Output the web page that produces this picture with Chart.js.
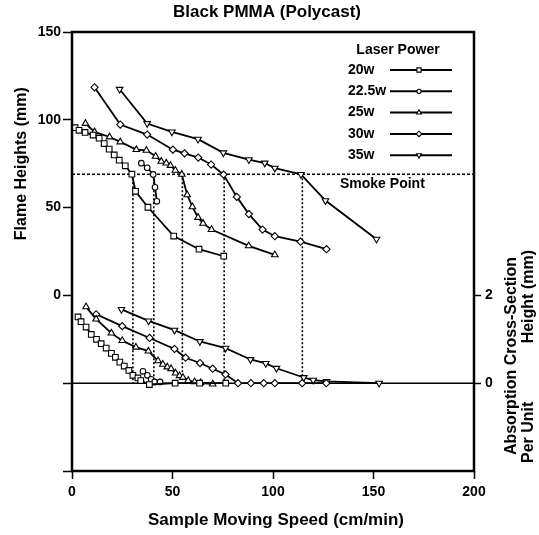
<!DOCTYPE html>
<html>
<head>
<meta charset="utf-8">
<script src="https://cdn.jsdelivr.net/npm/chart.js@4.4.1/dist/chart.umd.min.js"></script>
<style>
    html, body { margin: 0; padding: 0; background: #fff; }
    #wrap { width: 539px; height: 535px; }
</style>
</head>
<body>
<div id="wrap"><canvas id="pmmaChart" width="539" height="535"></canvas></div>
<script>
// flame height (mm) vs sample speed (cm/min), one pair of arrays per laser power
const speed20 = [1.5, 3.5, 6.5, 10.5, 13.5, 16, 18.5, 21, 23.5, 26.5, 29.8, 31.6, 37.8, 50.6, 63.2, 75.5];
const flame20 = [95.5, 94, 92.8, 91.3, 89.5, 86.5, 83.3, 80, 77, 73.8, 69, 59.3, 50.2, 33.8, 26.3, 22.3];

const speed22 = [34.5, 37.4, 40.4, 41.3, 42.2];
const flame22 = [75.3, 72.7, 68.9, 61.6, 53.6];

const speed25 = [6.7, 11.2, 18.7, 24, 32, 37, 41.6, 44.4, 46.9, 49, 51.4, 54.6, 57.3, 59.9, 62.7, 65.2, 69.4, 87.9, 100.9];
const flame25 = [97.9, 93.1, 90.2, 87.4, 83, 82.6, 79.2, 76.3, 75.3, 74, 71.2, 68.9, 57.3, 50.4, 44.4, 41, 37.5, 28.2, 23.1];

const speed30 = [11.2, 24, 37.4, 50.2, 56, 62.8, 69.2, 75.4, 82, 88, 94.8, 100.9, 113.7, 126.6];
const flame30 = [118.5, 97.3, 91.6, 83, 80.9, 78.5, 74.5, 68.8, 56.1, 46.3, 37.5, 33.7, 30.6, 26.3];

const speed35 = [23.7, 37.4, 49.7, 62.7, 75.3, 88, 95.9, 100.9, 113.9, 126.1, 151.5];
const flame35 = [117.4, 97.9, 93.1, 89, 81.2, 77.3, 75.4, 72.5, 68.9, 54, 32];

// absorption cross-section per unit height (mm), right axis
const absSpeed20 = [3, 4.5, 7, 9.6, 12.2, 14.5, 17, 19.6, 21.6, 23.8, 26, 28.3, 30.3, 32.8, 34.2, 38.5, 51.3, 63.5, 76.5];
const abs20 = [1.51, 1.40, 1.28, 1.11, 1.0, 0.9, 0.8, 0.68, 0.59, 0.48, 0.39, 0.29, 0.18, 0.12, 0.06, -0.03, 0, 0, 0];

const absSpeed22 = [35.3, 37.5, 39.4, 41.1, 43.8];
const abs22 = [0.27, 0.18, 0.09, 0.03, 0.03];

const absSpeed25 = [7, 12, 19.6, 25, 31.8, 38, 42.8, 45.2, 47.4, 49.3, 51.5, 53.5, 55.2, 57.8, 61, 64, 70];
const abs25 = [1.74, 1.46, 1.14, 0.97, 0.82, 0.73, 0.51, 0.43, 0.37, 0.33, 0.23, 0.17, 0.13, 0.06, 0.03, 0.01, -0.02];

const absSpeed30 = [12, 25, 38.6, 51, 56.5, 63.7, 70, 76.4, 82.6, 89, 95.4, 100.9, 114.5, 126.5];
const abs30 = [1.57, 1.30, 1.03, 0.78, 0.58, 0.46, 0.33, 0.2, 0, 0, 0, 0, 0, 0];

const absSpeed35 = [24.6, 38.1, 51, 63.6, 76.4, 88.8, 96.4, 101.7, 115.3, 120, 126.6, 152.8];
const abs35 = [1.68, 1.42, 1.21, 0.95, 0.8, 0.54, 0.45, 0.34, 0.13, 0.07, 0.04, 0];

// smoke point
const smokeHeight = 69;
const smokeSpeeds = [30.3, 40.7, 54.9, 75.7, 114.6];

// ticks
const speedTicks = [0, 50, 100, 150, 200];
const flameTicks = [-100, -50, 0, 50, 100, 150];
const absTicks = [0, 2];

const powerLabels = ['20w', '22.5w', '25w', '30w', '35w'];
const markerStyles = ['rect', 'circle', 'triangle', 'rectRot', 'triangle'];
const markerRotation = [0, 0, 0, 0, 180];
const markerRadius = [4, 2.8, 3.8, 3.6, 3.8];

const fontFamily = "'Liberation Sans', Arial, Helvetica, sans-serif";

function pairs(xs, ys) {
    return xs.map((x, i) => ({ x: x, y: ys[i] }));
}

function series(i, xs, ys, axis) {
    return {
        label: powerLabels[i],
        data: pairs(xs, ys),
        yAxisID: axis,
        borderColor: '#000',
        borderWidth: 1.8,
        pointStyle: markerStyles[i],
        rotation: markerRotation[i],
        pointRadius: markerRadius[i],
        pointBackgroundColor: '#fff',
        pointBorderColor: '#000',
        pointBorderWidth: 1.1,
        fill: false,
        tension: 0,
        clip: false
    };
}

const smokePlugin = {
    id: 'smokeLines',
    beforeDatasetsDraw(chart) {
        const { ctx, chartArea: a, scales } = chart;
        const ySmoke = scales.yL.getPixelForValue(smokeHeight);
        const yBase = scales.yR.getPixelForValue(0);
        ctx.save();
        ctx.strokeStyle = '#000';

        // baseline for the absorption curves
        ctx.lineWidth = 1.5;
        ctx.beginPath();
        ctx.moveTo(a.left, yBase);
        ctx.lineTo(a.right, yBase);
        ctx.stroke();

        ctx.lineWidth = 1.6;
        ctx.setLineDash([3, 2]);
        ctx.beginPath();
        ctx.moveTo(a.left, ySmoke);
        ctx.lineTo(a.right, ySmoke);
        ctx.stroke();

        ctx.setLineDash([2, 2]);
        smokeSpeeds.forEach(s => {
            const x = scales.x.getPixelForValue(s);
            ctx.beginPath();
            ctx.moveTo(x, ySmoke);
            ctx.lineTo(x, yBase);
            ctx.stroke();
        });
        ctx.restore();
    }
};

const decorPlugin = {
    id: 'decor',
    afterDraw(chart) {
        const { ctx, chartArea: a, scales } = chart;
        ctx.save();

        // frame
        ctx.strokeStyle = '#000';
        ctx.lineWidth = 2.5;
        ctx.strokeRect(a.left, a.top, a.right - a.left, a.bottom - a.top);

        ctx.fillStyle = '#000';
        ctx.textBaseline = 'middle';

        ctx.font = 'bold 17px ' + fontFamily;
        ctx.textAlign = 'center';
        ctx.fillText('Black PMMA (Polycast)', 267, 12);
        ctx.fillText('Sample Moving Speed (cm/min)', 276, 520);

        // left title, centred on the flame-height part
        ctx.font = 'bold 16px ' + fontFamily;
        const yMid = (scales.yL.getPixelForValue(150) + scales.yL.getPixelForValue(0)) / 2;
        ctx.save();
        ctx.translate(22, yMid);
        ctx.rotate(-Math.PI / 2);
        ctx.fillText('Flame Heights (mm)', 0, 0);
        ctx.restore();

        // right title, two lines
        ctx.save();
        ctx.translate(512, 356);
        ctx.rotate(-Math.PI / 2);
        ctx.fillText('Absorption Cross-Section', 0, 0);
        ctx.restore();
        ctx.save();
        ctx.translate(529, 463);
        ctx.rotate(-Math.PI / 2);
        ctx.textAlign = 'left';
        ctx.fillText('Per Unit', 0, 0);
        ctx.restore();
        ctx.save();
        ctx.translate(529, 250);
        ctx.rotate(-Math.PI / 2);
        ctx.textAlign = 'right';
        ctx.fillText('Height (mm)', 0, 0);
        ctx.restore();

        // smoke point label
        ctx.font = 'bold 14px ' + fontFamily;
        ctx.textAlign = 'left';
        ctx.fillText('Smoke Point', a.right - 134, scales.yL.getPixelForValue(smokeHeight) + 10);

        // legend
        ctx.textAlign = 'center';
        ctx.fillText('Laser Power', a.right - 76, a.top + 18);
        powerLabels.forEach((lab, i) => {
            const y = a.top + 38 + i * 21.3;
            ctx.fillStyle = '#000';
            ctx.textAlign = 'left';
            ctx.fillText(lab, a.right - 126, y);
            ctx.strokeStyle = '#000';
            ctx.lineWidth = 2;
            ctx.beginPath();
            ctx.moveTo(a.right - 84, y);
            ctx.lineTo(a.right - 22, y);
            ctx.stroke();
            ctx.fillStyle = '#fff';
            ctx.lineWidth = 1.1;
            Chart.helpers.drawPoint(ctx, {
                pointStyle: markerStyles[i],
                rotation: markerRotation[i],
                radius: markerRadius[i] * 0.75,
                borderWidth: 1.1
            }, a.right - 55, y);
        });

        ctx.restore();
    }
};

const tickFont = { family: fontFamily, size: 14, weight: 'bold' };

new Chart(document.getElementById('pmmaChart'), {
    type: 'line',
    data: {
        datasets: [
            series(0, speed20, flame20, 'yL'),
            series(1, speed22, flame22, 'yL'),
            series(2, speed25, flame25, 'yL'),
            series(3, speed30, flame30, 'yL'),
            series(4, speed35, flame35, 'yL'),
            series(0, absSpeed20, abs20, 'yR'),
            series(1, absSpeed22, abs22, 'yR'),
            series(2, absSpeed25, abs25, 'yR'),
            series(3, absSpeed30, abs30, 'yR'),
            series(4, absSpeed35, abs35, 'yR')
        ]
    },
    options: {
        responsive: false,
        animation: false,
        devicePixelRatio: 1,
        layout: { padding: { top: 32, left: 0, right: 0, bottom: 0 } },
        plugins: {
            legend: { display: false },
            tooltip: { enabled: false },
            title: { display: false }
        },
        scales: {
            x: {
                type: 'linear',
                position: 'bottom',
                min: 0,
                max: 200,
                afterFit: s => { s.height = 64; },
                afterBuildTicks: s => { s.ticks = speedTicks.map(v => ({ value: v })); },
                ticks: { font: tickFont, color: '#000', padding: 5, maxRotation: 0, autoSkip: false },
                grid: { drawOnChartArea: false, tickLength: 8, tickWidth: 1.5, tickColor: '#000' },
                border: { display: false }
            },
            yL: {
                type: 'linear',
                position: 'left',
                min: -100,
                max: 150,
                afterFit: s => { s.width = 72; },
                afterBuildTicks: s => { s.ticks = flameTicks.map(v => ({ value: v })); },
                ticks: {
                    font: tickFont, color: '#000', padding: 2, autoSkip: false,
                    callback: v => (v >= 0 ? v : '')
                },
                grid: { drawOnChartArea: false, tickLength: 9, tickWidth: 1.5, tickColor: '#000' },
                border: { display: false }
            },
            yR: {
                type: 'linear',
                position: 'right',
                min: -2,
                max: 8,
                afterFit: s => { s.width = 65; },
                afterBuildTicks: s => { s.ticks = absTicks.map(v => ({ value: v })); },
                ticks: { font: tickFont, color: '#000', padding: 4, autoSkip: false },
                grid: { drawOnChartArea: false, tickLength: 7, tickWidth: 1.5, tickColor: '#000' },
                border: { display: false }
            }
        }
    },
    plugins: [smokePlugin, decorPlugin]
});
</script>
</body>
</html>
